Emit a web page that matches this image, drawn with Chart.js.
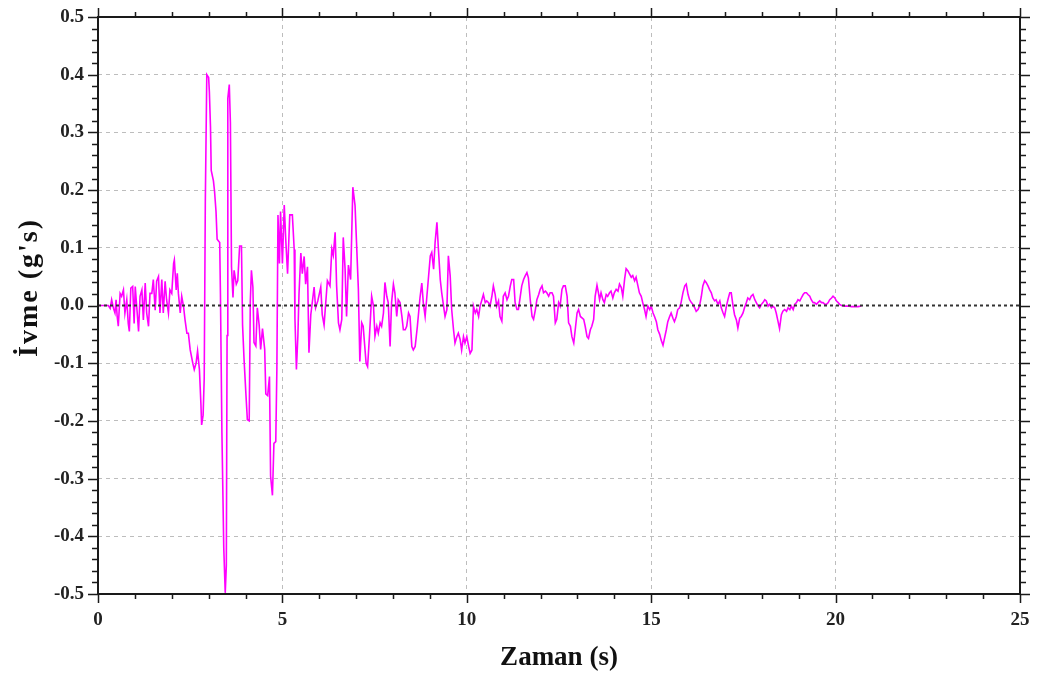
<!DOCTYPE html>
<html>
<head>
<meta charset="utf-8">
<script src="https://cdn.jsdelivr.net/npm/chart.js@4.4.0/dist/chart.umd.min.js"></script>
<style>
  body { margin: 0; background: #fff; }
  canvas { display: block; }
</style>
</head>
<body>
<canvas id="accelChart" width="1039" height="679"></canvas>
<script>
// time (s) and acceleration (g)
const timeS = [
  0, 0.28, 0.33, 0.37, 0.42, 0.46, 0.49, 0.52, 0.55, 0.60, 0.64, 0.69, 0.73, 0.78, 0.82, 0.85, 0.89, 0.94, 0.98, 1.01,
  1.05, 1.10, 1.14, 1.19, 1.23, 1.28, 1.32, 1.37, 1.41, 1.46, 1.50, 1.55, 1.59, 1.64, 1.68, 1.73, 1.77, 1.82, 1.86, 1.91,
  1.95, 2.00, 2.05, 2.07, 2.12, 2.15, 2.18, 2.23, 2.27, 2.32, 2.36, 2.41, 2.45, 2.50, 2.57, 2.61, 2.66, 2.70, 2.75, 2.79,
  2.81, 2.85, 2.88, 2.91, 2.95, 3.00, 3.02, 3.05, 3.07, 3.13, 3.16, 3.20, 3.23, 3.30, 3.32, 3.36, 3.41, 3.45, 3.48, 3.50,
  3.52, 3.56, 3.59, 3.62, 3.66, 3.69, 3.75, 3.79, 3.84, 3.89, 3.92, 3.96, 4.01, 4.05, 4.10, 4.13, 4.16, 4.20, 4.23, 4.28,
  4.32, 4.37, 4.41, 4.46, 4.52, 4.55, 4.60, 4.65, 4.68, 4.73, 4.77, 4.82, 4.85, 4.88, 4.92, 4.95, 5.00, 5.05, 5.09, 5.14,
  5.20, 5.27, 5.32, 5.34, 5.38, 5.42, 5.45, 5.50, 5.54, 5.59, 5.63, 5.68, 5.72, 5.77, 5.86, 5.90, 5.96, 6.04, 6.08, 6.13,
  6.22, 6.29, 6.34, 6.38, 6.43, 6.47, 6.52, 6.56, 6.61, 6.65, 6.70, 6.74, 6.79, 6.85, 6.91, 6.97, 7.01, 7.06, 7.10, 7.15,
  7.19, 7.27, 7.31, 7.36, 7.42, 7.47, 7.51, 7.56, 7.60, 7.65, 7.69, 7.74, 7.78, 7.83, 7.87, 7.92, 7.96, 8.01, 8.05, 8.10,
  8.14, 8.19, 8.24, 8.28, 8.33, 8.37, 8.42, 8.46, 8.51, 8.55, 8.60, 8.66, 8.73, 8.78, 8.82, 8.87, 8.91, 9.01, 9.05, 9.10,
  9.14, 9.19, 9.23, 9.28, 9.32, 9.37, 9.41, 9.46, 9.50, 9.55, 9.59, 9.64, 9.68, 9.73, 9.77, 9.82, 9.86, 9.91, 9.95, 10.00,
  10.05, 10.09, 10.14, 10.18, 10.23, 10.27, 10.32, 10.36, 10.41, 10.45, 10.50, 10.54, 10.59, 10.63, 10.68, 10.72, 10.77, 10.81, 10.86, 10.90,
  10.95, 10.99, 11.04, 11.09, 11.13, 11.18, 11.22, 11.27, 11.31, 11.36, 11.40, 11.45, 11.49, 11.54, 11.58, 11.63, 11.67, 11.72, 11.77, 11.81,
  11.86, 11.90, 11.95, 11.99, 12.04, 12.08, 12.13, 12.17, 12.22, 12.26, 12.31, 12.35, 12.40, 12.44, 12.49, 12.53, 12.58, 12.62, 12.67, 12.72,
  12.76, 12.81, 12.85, 12.90, 12.94, 12.99, 13.03, 13.08, 13.17, 13.21, 13.26, 13.30, 13.35, 13.39, 13.44, 13.48, 13.53, 13.57, 13.60, 13.64,
  13.69, 13.73, 13.78, 13.82, 13.87, 13.91, 13.96, 14.00, 14.05, 14.10, 14.14, 14.19, 14.23, 14.28, 14.32, 14.37, 14.41, 14.46, 14.50, 14.55,
  14.59, 14.64, 14.68, 14.73, 14.77, 14.82, 14.86, 14.91, 14.96, 15.00, 15.05, 15.09, 15.14, 15.18, 15.23, 15.27, 15.32, 15.36, 15.41, 15.45,
  15.50, 15.54, 15.59, 15.63, 15.68, 15.72, 15.77, 15.81, 15.86, 15.91, 15.95, 16.00, 16.04, 16.09, 16.13, 16.18, 16.22, 16.27, 16.31, 16.36,
  16.40, 16.45, 16.49, 16.54, 16.58, 16.63, 16.67, 16.72, 16.76, 16.81, 16.86, 16.90, 16.95, 16.99, 17.04, 17.08, 17.13, 17.17, 17.22, 17.26,
  17.31, 17.35, 17.40, 17.44, 17.49, 17.53, 17.58, 17.62, 17.67, 17.71, 17.76, 17.81, 17.85, 17.90, 17.94, 17.99, 18.03, 18.08, 18.12, 18.17,
  18.21, 18.26, 18.30, 18.35, 18.39, 18.44, 18.48, 18.53, 18.57, 18.62, 18.67, 18.71, 18.76, 18.80, 18.85, 18.89, 18.94, 18.98, 19.03, 19.07,
  19.12, 19.16, 19.21, 19.25, 19.30, 19.34, 19.39, 19.43, 19.48, 19.52, 19.57, 19.62, 19.66, 19.71, 19.75, 19.80, 19.84, 19.89, 19.93, 19.98,
  20.02, 20.07, 20.11, 20.16, 20.25, 20.34, 20.43, 20.52, 20.61, 20.70
];
const accelG = [
  0, 0, -0.005, 0.01, -0.005, -0.013, 0.01, -0.019, -0.036, 0.021, 0.016, 0.027, -0.013, 0.01, -0.031, -0.045, 0.03, 0.033, -0.031, 0.033,
  -0.002, -0.045, 0.016, 0.027, -0.025, 0.039, -0.013, -0.036, 0.021, 0.021, 0.045, -0.008, 0.042, 0.05, -0.013, 0.045, -0.013, 0.042, 0.01, -0.013,
  0.027, 0.021, 0.073, 0.079, 0.027, 0.056, 0.021, -0.013, 0.016, -0.002, -0.025, -0.048, -0.048, -0.077, -0.1, -0.111, -0.1, -0.079, -0.111, -0.17,
  -0.207, -0.19, -0.126, 0.18, 0.40, 0.395, 0.37, 0.31, 0.234, 0.216, 0.198, 0.163, 0.115, 0.109, 0.02, -0.221, -0.42, -0.498, -0.45, -0.052,
  0.359, 0.383, 0.317, 0.067, 0.014, 0.061, 0.037, 0.043, 0.103, 0.103, -0.034, -0.093, -0.153, -0.198, -0.2, 0.008, 0.061, 0.032, -0.064, -0.07,
  -0.004, -0.034, -0.076, -0.04, -0.076, -0.153, -0.156, -0.123, -0.296, -0.329, -0.239, -0.236, -0.111, 0.157, 0.073, 0.163, 0.073, 0.174, 0.115, 0.055,
  0.157, 0.157, 0.097, -0.022, -0.111, -0.052, 0.02, 0.091, 0.055, 0.085, 0.037, 0.067, -0.082, -0.016, 0.032, -0.004, 0.008, 0.032, -0.016, -0.034,
  0.043, 0.034, 0.098, 0.087, 0.127, 0.034, -0.03, -0.042, -0.024, 0.118, 0.063, -0.019, 0.07, 0.045, 0.205, 0.173, 0.109, 0.028, -0.097, -0.03,
  -0.036, -0.1, -0.106, -0.054, 0.016, -0.001, -0.053, -0.036, -0.048, -0.03, -0.036, -0.013, 0.04, 0.016, 0.005, -0.071, 0.005, 0.037, 0.022, -0.019,
  0.01, 0.005, -0.019, -0.042, -0.042, -0.036, -0.013, -0.019, -0.071, -0.077, -0.071, -0.036, 0.013, 0.039, 0.005, -0.019, 0.01, 0.086, 0.092, 0.063,
  0.109, 0.144, 0.098, 0.045, 0.022, -0.001, -0.019, -0.007, 0.086, 0.051, -0.007, -0.042, -0.065, -0.054, -0.048, -0.059, -0.077, -0.054, -0.065, -0.054,
  -0.071, -0.083, -0.077, -0.001, -0.013, -0.007, -0.019, -0.001, 0.01, 0.019, 0.005, 0.008, 0.005, -0.001, 0.016, 0.034, 0.019, -0.001, 0.008, -0.019,
  -0.027, 0.016, 0.022, 0.01, 0.016, 0.034, 0.045, 0.045, 0.005, -0.007, -0.007, 0.016, 0.034, 0.045, 0.051, 0.057, 0.048, 0.01, -0.019, -0.024,
  -0.007, 0.01, 0.019, 0.028, 0.034, 0.022, 0.025, 0.022, 0.016, 0.022, 0.022, 0.016, -0.03, -0.024, 0.005, -0.001, 0.028, 0.034, 0.034, 0.016,
  -0.03, -0.036, -0.054, -0.065, -0.042, -0.013, -0.007, -0.019, -0.024, -0.036, -0.054, -0.057, -0.042, -0.036, -0.024, 0.016, 0.035, 0.022, 0.01, 0.022,
  0.01, 0.005, 0.019, 0.016, 0.022, 0.025, 0.013, 0.022, 0.028, 0.025, 0.037, 0.031, 0.016, 0.046, 0.064, 0.06, 0.055, 0.049, 0.052, 0.043,
  0.049, 0.034, 0.022, 0.016, 0.005, -0.007, -0.019, -0.001, -0.007, -0.001, -0.013, -0.019, -0.028, -0.042, -0.05, -0.06, -0.069, -0.057, -0.042, -0.028,
  -0.019, -0.013, -0.022, -0.028, -0.019, -0.007, -0.004, 0.005, 0.022, 0.034, 0.037, 0.019, 0.01, 0.005, 0.002, -0.004, -0.01, -0.007, -0.001, 0.016,
  0.034, 0.043, 0.04, 0.034, 0.028, 0.022, 0.013, 0.008, 0.01, 0.002, 0.008, -0.004, -0.013, -0.019, -0.001, 0.01, 0.022, 0.022, -0.001, -0.016,
  -0.025, -0.039, -0.022, -0.019, -0.013, -0.004, 0.005, 0.013, 0.01, 0.016, 0.019, 0.01, 0.005, -0.001, -0.004, 0.002, 0.005, 0.01, 0.008, -0.001,
  0.002, -0.004, -0.001, -0.004, -0.013, -0.028, -0.04, -0.016, -0.01, -0.007, -0.01, -0.004, -0.007, -0.001, -0.007, 0.002, 0.005, 0.01, 0.008, 0.013,
  0.019, 0.022, 0.022, 0.019, 0.016, 0.01, 0.005, 0.005, 0.002, 0.005, 0.008, 0.005, 0.005, 0.002, 0.002, 0.005, 0.01, 0.013, 0.016, 0.013,
  0.008, 0.005, 0.002, 0, -0.001, -0.001, -0.002, -0.002, -0.002, -0.001
];

const xTickValues = [0, 5, 10, 15, 20, 25];
const yTickValues = [-0.5, -0.4, -0.3, -0.2, -0.1, 0, 0.1, 0.2, 0.3, 0.4, 0.5];
const xTitle = 'Zaman (s)';
const yTitle = 'İvme (g\'s)';

const serif = '"Liberation Serif", "Times New Roman", serif';

// box round the plot, outward ticks on all four sides, dotted zero line, y title
const frameTicks = {
  id: 'frameTicks',
  afterDatasetsDraw(chart) {
    const { ctx, chartArea: a, scales: { x, y } } = chart;
    ctx.save();
    const y0 = y.getPixelForValue(0);
    ctx.strokeStyle = '#333';
    ctx.lineWidth = 2;
    ctx.setLineDash([3, 3]);
    ctx.beginPath();
    ctx.moveTo(a.left, y0);
    ctx.lineTo(a.right, y0);
    ctx.stroke();
    ctx.setLineDash([]);

    ctx.strokeStyle = '#1a1a1a';
    ctx.lineWidth = 1.5;
    ctx.beginPath();
    for (let i = 0; i <= 25; i++) {
      const px = Math.round(x.getPixelForValue(i)) + 0.5;
      const len = i % 5 === 0 ? 9 : 5;
      ctx.moveTo(px, a.bottom); ctx.lineTo(px, a.bottom + len);
      ctx.moveTo(px, a.top); ctx.lineTo(px, a.top - len);
    }
    for (let k = -25; k <= 25; k++) {
      const py = Math.round(y.getPixelForValue(k * 0.02)) + 0.5;
      const len = k % 5 === 0 ? 10 : 6;
      ctx.moveTo(a.left, py); ctx.lineTo(a.left - len, py);
      ctx.moveTo(a.right, py); ctx.lineTo(a.right + len, py);
    }
    ctx.stroke();

    ctx.lineWidth = 2;
    ctx.strokeRect(a.left, a.top, a.right - a.left, a.bottom - a.top);
    ctx.restore();
  },
  afterDraw(chart) {
    const { ctx, chartArea: a } = chart;
    ctx.save();
    ctx.translate(30, (a.top + a.bottom) / 2 - 18);
    ctx.rotate(-Math.PI / 2);
    ctx.font = 'bold 28px ' + serif;
    ctx.letterSpacing = '2px';
    ctx.fillStyle = '#111';
    ctx.textAlign = 'center';
    ctx.textBaseline = 'middle';
    ctx.fillText(yTitle, 0, 0);
    ctx.restore();
  }
};

const points = timeS.map((t, i) => ({ x: t, y: accelG[i] }));

new Chart(document.getElementById('accelChart').getContext('2d'), {
  type: 'line',
  data: {
    datasets: [{
      data: points,
      borderColor: '#ff00ff',
      borderWidth: 1.6,
      pointRadius: 0,
      tension: 0,
      fill: false
    }]
  },
  options: {
    responsive: false,
    animation: false,
    layout: { padding: { top: 17, right: 19, left: 0, bottom: 0 } },
    plugins: { legend: { display: false }, tooltip: { enabled: false } },
    scales: {
      x: {
        type: 'linear',
        min: 0,
        max: 25,
        afterFit: s => { s.height = 85; s.paddingLeft = 0; s.paddingRight = 0; },
        afterBuildTicks: s => { s.ticks = xTickValues.map(v => ({ value: v })); },
        ticks: {
          padding: 15,
          color: '#222',
          font: { family: serif, size: 19, weight: 'bold' },
          callback: v => String(v)
        },
        grid: {
          drawTicks: false,
          color: ctx => (ctx.tick && ctx.tick.value > 0 && ctx.tick.value < 25) ? '#bdbdbd' : 'rgba(0,0,0,0)',
          lineWidth: 1
        },
        border: { display: false, dash: [4, 4] },
        title: {
          display: true,
          text: xTitle,
          color: '#111',
          padding: { top: 8, bottom: 5 },
          font: { family: serif, size: 27, weight: 'bold' }
        }
      },
      y: {
        type: 'linear',
        min: -0.5,
        max: 0.5,
        afterFit: s => { s.width = 98; s.paddingTop = 0; s.paddingBottom = 0; },
        afterBuildTicks: s => { s.ticks = yTickValues.map(v => ({ value: v })); },
        ticks: {
          padding: 14,
          color: '#222',
          font: { family: serif, size: 19, weight: 'bold' },
          callback: v => (Math.round(v * 10) / 10).toFixed(1).replace('-0.0', '0.0')
        },
        grid: {
          drawTicks: false,
          color: ctx => (ctx.tick && Math.abs(ctx.tick.value) > 0.001 && Math.abs(ctx.tick.value) < 0.499) ? '#bdbdbd' : 'rgba(0,0,0,0)',
          lineWidth: 1
        },
        border: { display: false, dash: [4, 4] },
        title: { display: false }
      }
    }
  },
  plugins: [frameTicks]
});
</script>
</body>
</html>
